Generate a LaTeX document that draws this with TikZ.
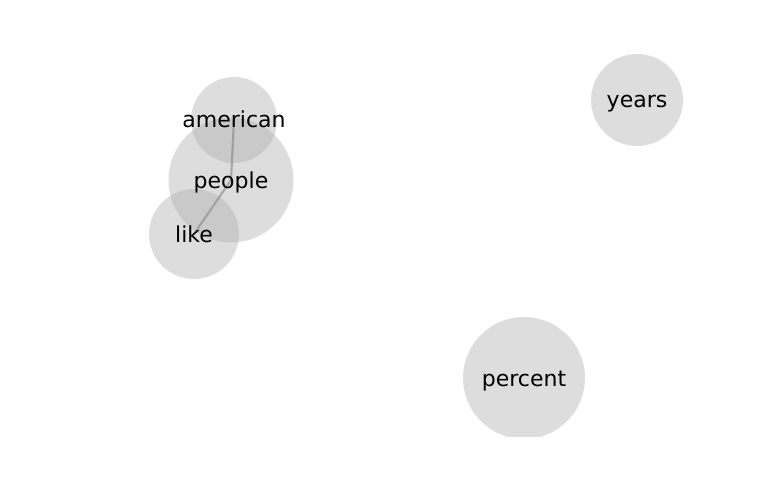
\documentclass[tikz,border=0pt]{standalone}
\usepackage{fontspec}
\setmainfont{DejaVu Sans}
\tikzset{
    bubble/.style={ % round backdrop of a word
        shape=circle,
        fill=black!33,
        fill opacity=0.4,
        inner sep=0pt
    },
    word/.style={ % the word itself
        font=\fontsize{22}{26}\selectfont,
        text=black,
        text height=16pt,
        text depth=0pt,
        inner sep=0pt
    },
    link/.style={ % line between two words
        draw=gray,
        opacity=0.55,
        line width=2.2pt
    }
}
\begin{document}
\begin{tikzpicture}[x=1pt,y=-1pt]
        \useasboundingbox (0,0) rectangle (768,500);

        \begin{scope}
                \clip (0,0) rectangle (768,436);
                \node [bubble, minimum size=125] (people) at (231,180) {};
                \node [bubble, minimum size=86] (american) at (234,120) {};
                \node [bubble, minimum size=90] (like) at (194,234) {};
                \node [bubble, minimum size=92] (years) at (637,100) {};
                \node [bubble, minimum size=122] (percent) at (524,378) {};
        \end{scope}

        \draw [link] (american.center) -- (people.center) -- (like.center);

        \node [word] at (american) {american};
        \node [word] at (people) {people};
        \node [word] at (like) {like};
        \node [word] at (years) {years};
        \node [word] at (percent) {percent};

\end{tikzpicture}
\end{document}
